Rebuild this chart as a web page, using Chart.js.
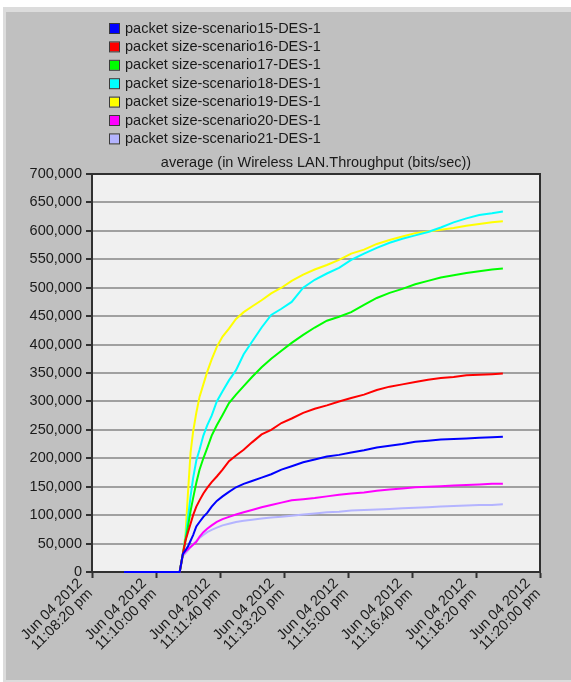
<!DOCTYPE html>
<html>
<head>
<meta charset="utf-8">
<title>average (in Wireless LAN.Throughput (bits/sec))</title>
<script src="https://cdn.jsdelivr.net/npm/chart.js@4"></script>
<style>
  html, body { margin: 0; padding: 0; background: #ffffff; }
  canvas { display: block; }
</style>
</head>
<body>
<canvas id="chart" width="571" height="682"></canvas>
<script>
// Sample times, in seconds after 11:08:20 pm
const timeSec = [50, 137, 142, 146, 150, 154, 158, 163, 168, 174, 180, 187, 195, 204, 214, 225, 237,
  250, 265, 280, 296, 312, 330, 348, 367, 386, 405, 425, 445, 465, 485, 505, 525, 545, 565, 585, 605, 625, 642];

const seriesNames = [
  'packet size-scenario15-DES-1',
  'packet size-scenario16-DES-1',
  'packet size-scenario17-DES-1',
  'packet size-scenario18-DES-1',
  'packet size-scenario19-DES-1',
  'packet size-scenario20-DES-1',
  'packet size-scenario21-DES-1'
];

const seriesColors = ['#0000ff', '#ff0000', '#00ff00', '#00ffff', '#ffff00', '#ff00ff', '#b4b4ff'];

// Average throughput (bits/sec)
const scenario15 = [0, 0, 32000, 38000, 45000, 55000, 65000, 80000, 88000, 97000, 104000, 115000,
  125000, 133000, 141000, 149000, 155000, 160000, 166000, 172000, 180000, 186000, 193000, 198000,
  203000, 206000, 210000, 214000, 219000, 222000, 225000, 229000, 231000, 233000, 234000, 235000,
  236000, 237000, 238000];
const scenario16 = [0, 0, 32000, 55000, 70000, 85000, 100000, 115000, 126000, 138000, 148000, 158000,
  168000, 180000, 195000, 205000, 215000, 228000, 242000, 250000, 262000, 270000, 280000, 287000,
  293000, 300000, 306000, 312000, 320000, 326000, 330000, 334000, 338000, 341000, 343000, 346000,
  347000, 348000, 349000];
const scenario17 = [0, 0, 32000, 55000, 80000, 107000, 130000, 157000, 180000, 200000, 218000, 240000,
  258000, 276000, 297000, 312000, 327000, 343000, 360000, 375000, 389000, 403000, 417000, 430000,
  442000, 449000, 457000, 470000, 482000, 491000, 498000, 506000, 512000, 518000, 522000, 526000,
  529000, 532000, 534000];
const scenario18 = [0, 0, 32000, 60000, 95000, 133000, 165000, 196000, 215000, 240000, 258000, 275000,
  300000, 318000, 337000, 355000, 383000, 405000, 430000, 452000, 463000, 475000, 500000, 514000,
  525000, 535000, 549000, 560000, 570000, 579000, 586000, 592000, 598000, 606000, 615000, 622000,
  628000, 631000, 634000];
const scenario19 = [0, 0, 32000, 65000, 140000, 210000, 247000, 280000, 308000, 330000, 352000, 374000,
  396000, 414000, 428000, 445000, 457000, 467000, 478000, 490000, 500000, 512000, 523000, 532000,
  540000, 549000, 560000, 567000, 577000, 584000, 590000, 596000, 599000, 602000, 605000, 609000,
  612000, 615000, 617000];
const scenario20 = [0, 0, 30000, 36000, 40000, 44000, 48000, 53000, 62000, 70000, 76000, 82000,
  88000, 93000, 97000, 101000, 105000, 109000, 114000, 118000, 122000, 126000, 128000, 130000,
  133000, 136000, 138000, 140000, 143000, 145000, 147000, 149000, 150000, 151000, 152000, 153000,
  154000, 155000, 155000];
const scenario21 = [0, 0, 28000, 33000, 38000, 44000, 49000, 54000, 60000, 65000, 70000, 74000,
  78000, 82000, 85000, 88000, 90000, 92000, 94000, 96000, 97000, 99000, 101000, 103000,
  105000, 106000, 108000, 109000, 110000, 111000, 112000, 113000, 114000, 115000, 116000, 117000,
  118000, 118000, 119000];

const seriesValues = [scenario15, scenario16, scenario17, scenario18, scenario19, scenario20, scenario21];

// Axis ticks
const xTickDate = 'Jun 04 2012';
const xTickTimes = ['11:08:20 pm', '11:10:00 pm', '11:11:40 pm', '11:13:20 pm',
  '11:15:00 pm', '11:16:40 pm', '11:18:20 pm', '11:20:00 pm'];
const yTickStep = 50000;
const yMax = 700000;

const chartTitle = 'average (in Wireless LAN.Throughput (bits/sec))';
const FONT = '"Liberation Sans", Arial, sans-serif';
const FONT_SIZE = 14.5;

Chart.defaults.font.family = FONT;
Chart.defaults.font.size = FONT_SIZE;

const datasets = seriesNames.map((name, i) => ({
  label: name,
  data: timeSec.map((t, k) => ({ x: t, y: seriesValues[i][k] })),
  borderColor: seriesColors[i],
  backgroundColor: seriesColors[i],
  borderWidth: 2,
  pointRadius: 0,
  tension: 0,
  fill: false,
  clip: 3
}));

// Window frame, plot background, box outline, legend and title
const decorations = {
  id: 'decorations',
  beforeDraw(chart) {
    const { ctx, chartArea: a } = chart;
    ctx.save();
    ctx.fillStyle = '#ffffff';
    ctx.fillRect(0, 0, chart.width, chart.height);
    ctx.fillStyle = '#dcdcdc';
    ctx.fillRect(3, 7, chart.width - 3, chart.height - 7);
    ctx.fillStyle = '#c0c0c0';
    ctx.fillRect(6, 12, chart.width - 6, chart.height - 14);
    ctx.fillStyle = '#f0f0f0';
    ctx.fillRect(a.left, a.top, a.right - a.left, a.bottom - a.top);
    ctx.restore();
  },
  afterDraw(chart) {
    const { ctx, chartArea: a } = chart;
    ctx.save();
    // top and right edges of the plot box
    ctx.strokeStyle = '#303030';
    ctx.lineWidth = 2;
    ctx.beginPath();
    ctx.moveTo(a.left, a.top);
    ctx.lineTo(a.right, a.top);
    ctx.lineTo(a.right, a.bottom);
    ctx.stroke();

    // legend
    ctx.font = FONT_SIZE + 'px ' + FONT;
    ctx.textBaseline = 'middle';
    ctx.textAlign = 'left';
    chart.data.datasets.forEach((ds, i) => {
      const cy = 28.5 + i * 18.4;
      ctx.fillStyle = ds.borderColor;
      ctx.fillRect(110, cy - 4.5, 9, 9);
      ctx.strokeStyle = '#3a3a3a';
      ctx.lineWidth = 1;
      ctx.strokeRect(109.5, cy - 5, 10, 10);
      ctx.fillStyle = '#1a1a1a';
      ctx.fillText(ds.label, 125, cy);
    });

    // title
    ctx.textAlign = 'center';
    ctx.fillText(chartTitle, (a.left + a.right) / 2, 163);
    ctx.restore();
  }
};

new Chart(document.getElementById('chart'), {
  type: 'line',
  data: { datasets },
  options: {
    responsive: false,
    animation: false,
    devicePixelRatio: 1,
    layout: { padding: { top: 174, right: 31, bottom: 0, left: 0 } },
    plugins: {
      legend: { display: false },
      title: { display: false },
      tooltip: { enabled: false }
    },
    scales: {
      x: {
        type: 'linear',
        min: 0,
        max: 700,
        afterFit(scale) { scale.height = 110; },
        grid: { drawOnChartArea: false, drawTicks: true, tickLength: 6, tickColor: '#303030', tickWidth: 2 },
        border: { color: '#303030', width: 2 },
        ticks: {
          stepSize: 100,
          autoSkip: false,
          minRotation: 45,
          maxRotation: 45,
          padding: -2,
          labelOffset: -12,
          color: '#1a1a1a',
          font: { size: FONT_SIZE, lineHeight: 1 },
          callback: (value, index) => [xTickDate, xTickTimes[index]]
        }
      },
      y: {
        min: 0,
        max: yMax,
        afterFit(scale) { scale.width = 92; },
        grid: { color: '#a0a0a0', lineWidth: 2, tickLength: 6, tickColor: '#303030', tickWidth: 2 },
        border: { color: '#303030', width: 2 },
        ticks: {
          stepSize: yTickStep,
          padding: 4,
          color: '#1a1a1a',
          callback: (value) => value.toLocaleString('en-US')
        }
      }
    }
  },
  plugins: [decorations]
});
</script>
</body>
</html>
